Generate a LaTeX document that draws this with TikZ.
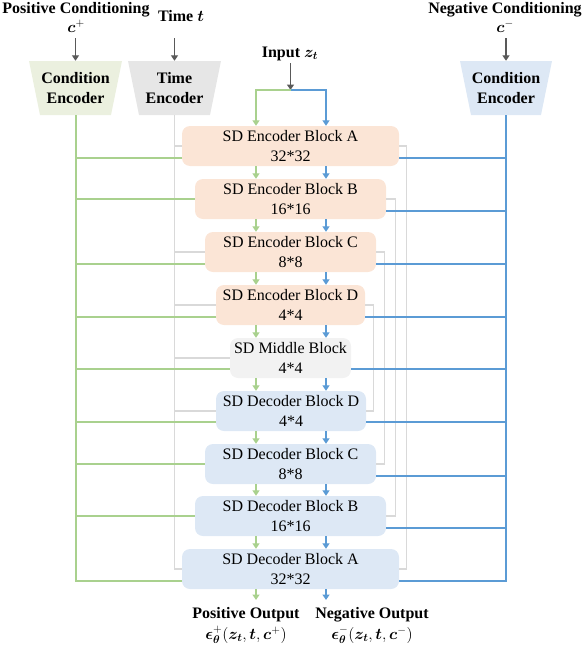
\documentclass[tikz,border=0pt]{standalone}
\usepackage{fix-cm}
\usepackage{fontspec}
\setmainfont{Liberation Serif}
\usepackage{bm}
\usetikzlibrary{arrows.meta}

\definecolor{encfill}{HTML}{FBE5D6}
\definecolor{decfill}{HTML}{DDE8F5}
\definecolor{midfill}{HTML}{F2F2F2}
\definecolor{posfill}{HTML}{EBF0DF}
\definecolor{timefill}{HTML}{E6E6E6}
\definecolor{negfill}{HTML}{DDE8F5}
\definecolor{posline}{HTML}{A9D18E}
\definecolor{negline}{HTML}{5B9BD5}
\definecolor{skipgray}{HTML}{D9D9D9}
\definecolor{arrowgray}{HTML}{595959}

\newcommand{\blocksize}{\fontsize{16}{19.5}\selectfont}

\tikzset{
  sdblock/.style={rounded corners=8pt, minimum height=40pt, inner sep=2pt,
    align=center, font=\blocksize},
  headtxt/.style={align=center, inner sep=2pt, font=\blocksize\bfseries},
  tiplink/.style={-{Triangle[width=7pt,length=5.5pt]}},
  poslink/.style={draw=posline, line width=2pt},
  neglink/.style={draw=negline, line width=2pt},
  timelink/.style={draw=skipgray, line width=1.3pt},
  inlink/.style={draw=arrowgray, line width=1.7pt, tiplink},
}

\begin{document}
\begin{tikzpicture}  % ------ Positive / negative conditioning -----------
      [x=1pt,y=-1pt]
    \useasboundingbox (0,0) rectangle (585,645);

    % encoders on top
    \fill[posfill] (29,61) -- (122,61) -- (111,115) -- (40,115) -- cycle;
    \fill[timefill] (128,61) -- (221,61) -- (210,115) -- (139,115) -- cycle;
    \fill[negfill] (460,61) -- (552,61) -- (541,115) -- (471,115) -- cycle;
    \node[headtxt, minimum height=54pt] (posEnc) at (75.5,88) {Condition\\Encoder};
    \node[headtxt, minimum height=54pt] (timeEnc) at (174.5,88) {Time\\Encoder};
    \node[headtxt, minimum height=54pt] (negEnc) at (506,88) {Condition\\Encoder};

    \node[headtxt] (posCond) at (76,17.5) {Positive Conditioning\\$\bm{c}^{+}$};
    \node[headtxt] (timeIn) at (181,16) {Time $\bm{t}$};
    \node[headtxt] (zIn) at (290,54) {Input $\bm{z}_{\bm{t}}$};
    \node[headtxt] (negCond) at (505,17.5) {Negative Conditioning\\$\bm{c}^{-}$};

    % SD blocks
    \node[sdblock, fill=encfill, minimum width=217pt] (encA) at (290.5,146) {SD Encoder Block A\\32*32};
    \node[sdblock, fill=encfill, minimum width=191pt] (encB) at (290.5,199) {SD Encoder Block B\\16*16};
    \node[sdblock, fill=encfill, minimum width=171pt] (encC) at (290.5,252) {SD Encoder Block C\\8*8};
    \node[sdblock, fill=encfill, minimum width=149pt] (encD) at (290.5,305) {SD Encoder Block D\\4*4};
    \node[sdblock, fill=midfill, minimum width=121pt] (mid) at (290.5,358) {SD Middle Block\\4*4};
    \node[sdblock, fill=decfill, minimum width=150pt] (decD) at (291,411) {SD Decoder Block D\\4*4};
    \node[sdblock, fill=decfill, minimum width=171pt] (decC) at (290.5,464) {SD Decoder Block C\\8*8};
    \node[sdblock, fill=decfill, minimum width=191pt] (decB) at (290.5,516) {SD Decoder Block B\\16*16};
    \node[sdblock, fill=decfill, minimum width=217pt] (decA) at (290.5,569) {SD Decoder Block A\\32*32};

    \coordinate (topRow) at (0,38);
    \coordinate (split) at (290.5,90);
    \coordinate (gx) at (256,0);
    \coordinate (bx) at (326,0);
    \coordinate (outRow) at (0,600);

    % time embedding
    \draw[timelink] (encA.west) -| (timeEnc.south);
    \draw[timelink] (encB.west) -| (timeEnc.south);
    \draw[timelink] (encC.west) -| (timeEnc.south);
    \draw[timelink] (encD.west) -| (timeEnc.south);
    \draw[timelink] (mid.west) -| (timeEnc.south);
    \draw[timelink] (decD.west) -| (timeEnc.south);
    \draw[timelink] (decC.west) -| (timeEnc.south);
    \draw[timelink] (decB.west) -| (timeEnc.south);
    \draw[timelink] (decA.west) -| (timeEnc.south);

    % skip connections
    \draw[timelink] (encA.east) -- ++(7,0) |- (decA.east);
    \draw[timelink] (encB.east) -- ++(9,0) |- (decB.east);
    \draw[timelink] (encC.east) -- ++(8,0) |- (decC.east);
    \draw[timelink] (encD.east) -- ++(8,0) |- (decD.east);

    % positive conditioning
    \draw[poslink] ([yshift=-12pt]encA.west) -| (posEnc.south);
    \draw[poslink] (encB.west) -| (posEnc.south);
    \draw[poslink] ([yshift=-12pt]encC.west) -| (posEnc.south);
    \draw[poslink] ([yshift=-12pt]encD.west) -| (posEnc.south);
    \draw[poslink] ([yshift=-11pt]mid.west) -| (posEnc.south);
    \draw[poslink] ([yshift=-11pt]decD.west) -| (posEnc.south);
    \draw[poslink] (decC.west) -| (posEnc.south);
    \draw[poslink] (decB.west) -| (posEnc.south);
    \draw[poslink] ([yshift=-12pt]decA.west) -| (posEnc.south);

    % negative conditioning
    \draw[neglink] ([yshift=-12pt]encA.east) -| (negEnc.south);
    \draw[neglink] ([yshift=-12pt]encB.east) -| (negEnc.south);
    \draw[neglink] ([yshift=-12pt]encC.east) -| (negEnc.south);
    \draw[neglink] ([yshift=-12pt]encD.east) -| (negEnc.south);
    \draw[neglink] ([yshift=-11pt]mid.east) -| (negEnc.south);
    \draw[neglink] ([yshift=-11pt]decD.east) -| (negEnc.south);
    \draw[neglink] ([yshift=-12pt]decC.east) -| (negEnc.south);
    \draw[neglink] ([yshift=-12pt]decB.east) -| (negEnc.south);
    \draw[neglink] ([yshift=-12pt]decA.east) -| (negEnc.south);

    % inputs
    \draw[inlink] (posEnc.north |- topRow) -- (posEnc.north);
    \draw[inlink] (timeEnc.north |- topRow) -- (timeEnc.north);
    \draw[inlink] (negEnc.north |- topRow) -- (negEnc.north);
    \draw[inlink] (zIn.south -| split) -- (split);
    \draw[poslink, tiplink] (split) -| (encA.north -| gx);
    \draw[neglink, tiplink] (split) -| (encA.north -| bx);

    % flow through the blocks
    \draw[poslink, tiplink] (encA.south -| gx) -- (encB.north -| gx); \draw[neglink, tiplink] (encA.south -| bx) -- (encB.north -| bx);
    \draw[poslink, tiplink] (encB.south -| gx) -- (encC.north -| gx); \draw[neglink, tiplink] (encB.south -| bx) -- (encC.north -| bx);
    \draw[poslink, tiplink] (encC.south -| gx) -- (encD.north -| gx); \draw[neglink, tiplink] (encC.south -| bx) -- (encD.north -| bx);
    \draw[poslink, tiplink] (encD.south -| gx) -- (mid.north -| gx); \draw[neglink, tiplink] (encD.south -| bx) -- (mid.north -| bx);
    \draw[poslink, tiplink] (mid.south -| gx) -- (decD.north -| gx); \draw[neglink, tiplink] (mid.south -| bx) -- (decD.north -| bx);
    \draw[poslink, tiplink] (decD.south -| gx) -- (decC.north -| gx); \draw[neglink, tiplink] (decD.south -| bx) -- (decC.north -| bx);
    \draw[poslink, tiplink] (decC.south -| gx) -- (decB.north -| gx); \draw[neglink, tiplink] (decC.south -| bx) -- (decB.north -| bx);
    \draw[poslink, tiplink] (decB.south -| gx) -- (decA.north -| gx); \draw[neglink, tiplink] (decB.south -| bx) -- (decA.north -| bx);

    % outputs
    \draw[poslink, tiplink] (decA.south -| gx) -- (gx |- outRow);
    \draw[neglink, tiplink] (decA.south -| bx) -- (bx |- outRow);
    \node[headtxt, inner sep=0pt] (posOut) at (246,625.5) {Positive Output\\[1pt]$\bm{\epsilon}^{+}_{\bm{\theta}}(\bm{z}_{\bm{t}},\bm{t},\bm{c}^{+})$};
    \node[headtxt, inner sep=0pt] (negOut) at (372,625.5) {Negative Output\\[1pt]$\bm{\epsilon}^{-}_{\bm{\theta}}(\bm{z}_{\bm{t}},\bm{t},\bm{c}^{-})$};
\end{tikzpicture}
\end{document}
